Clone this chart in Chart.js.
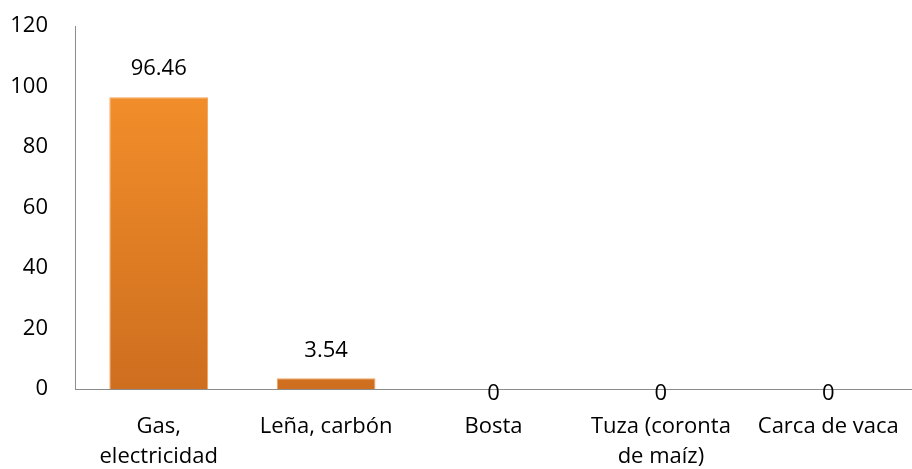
<!DOCTYPE html>
<html>
<head>
<meta charset="utf-8">
<script src="https://cdn.jsdelivr.net/npm/chart.js@4.4.0/dist/chart.umd.min.js"></script>
<style>
html,body{margin:0;padding:0;background:#fff;}
#wrap{width:912px;height:469px;position:relative;}
</style>
</head>
<body>
<div id="wrap"><canvas id="c" width="912" height="469"></canvas></div>
<script>
const categories = [["Gas,", "electricidad"], "Leña, carbón", "Bosta", ["Tuza (coronta", "de maíz)"], "Carca de vaca"];
const values = [96.46, 3.54, 0, 0, 0];
const valueLabels = ["96.46", "3.54", "0", "0", "0"];
const yTicks = [0, 20, 40, 60, 80, 100, 120];

const FONT = "'Open Sans', 'Liberation Sans', sans-serif";

const labelPlugin = {
  id: 'valueLabels',
  afterDatasetsDraw(chart) {
    const ctx = chart.ctx;
    const meta = chart.getDatasetMeta(0);
    ctx.save();
    ctx.font = "22px " + FONT;
    ctx.fillStyle = '#000';
    ctx.textAlign = 'center';
    ctx.textBaseline = 'middle';
    meta.data.forEach((bar, i) => {
      const y = values[i] === 0 ? bar.y + 5 : bar.y - 28;
      ctx.fillText(valueLabels[i], bar.x, y);
    });
    ctx.restore();
  }
};

const ctx = document.getElementById('c').getContext('2d');
function barGradient(context) {
  const chart = context.chart;
  const area = chart.chartArea;
  if (!area) return '#F39030';
  const g = chart.ctx.createLinearGradient(0, area.top, 0, area.bottom);
  g.addColorStop(0, '#FA952C');
  g.addColorStop(1, '#CE6E1F');
  return g;
}

new Chart(ctx, {
  type: 'bar',
  data: {
    labels: categories,
    datasets: [{
      data: values,
      backgroundColor: barGradient,
      borderColor: '#F6A45A',
      borderWidth: 1,
      categoryPercentage: 0.59,
      barPercentage: 1.0
    }]
  },
  options: {
    responsive: false,
    animation: false,
    devicePixelRatio: 1,
    layout: { padding: { left: 8, right: 0, top: 26, bottom: 0 } },
    plugins: { legend: { display: false }, tooltip: { enabled: false } },
    scales: {
      x: {
        afterFit(scale) { scale.height = 80; scale.paddingRight = 0; },
        grid: { display: false, drawTicks: false, tickLength: 0 },
        border: { display: true, color: '#8C8C8C', width: 1 },
        ticks: { color: '#000', font: { family: FONT, size: 22, lineHeight: 1.36 }, maxRotation: 0, autoSkip: false, padding: 23 }
      },
      y: {
        min: 0, max: 120,
        afterBuildTicks(scale) { scale.ticks = yTicks.map(v => ({ value: v })); },
        afterFit(scale) { scale.width = 67; scale.paddingTop = 0; scale.paddingBottom = 0; },
        grid: { display: false, drawTicks: false, tickLength: 0 },
        border: { display: true, color: '#8C8C8C', width: 1 },
        ticks: { color: '#000', font: { family: FONT, size: 22 }, padding: 27 }
      }
    }
  },
  plugins: [labelPlugin]
});
</script>
</body>
</html>
